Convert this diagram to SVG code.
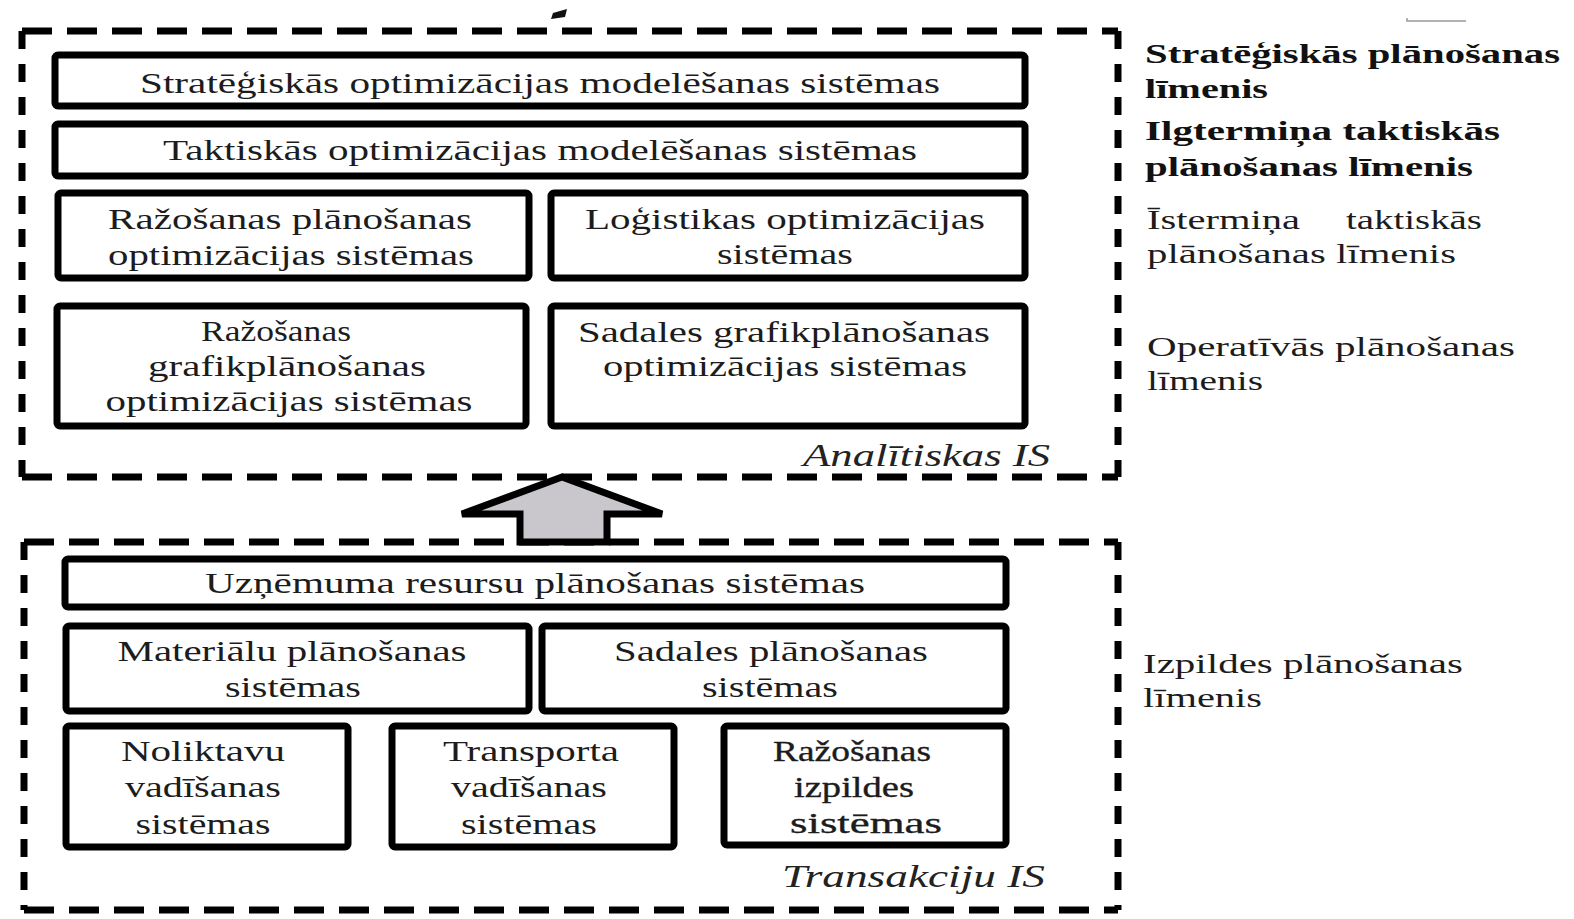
<svg xmlns="http://www.w3.org/2000/svg" width="1574" height="919" viewBox="0 0 1574 919">
  <style>
    .frame-h { stroke: #000; stroke-width: 7; stroke-dasharray: 30 15; fill: none; }
    .frame-v { stroke: #000; stroke-width: 7; stroke-dasharray: 18 15; fill: none; }
    .box { fill: #fff; stroke: #000; stroke-width: 7; }
    .t { font-family: "Liberation Serif", "Times New Roman", serif; font-size: 30px; fill: #1c1c1c; text-anchor: middle; }
    .tb { stroke: #1c1c1c; stroke-width: 0.35; }
    .it { font-family: "Liberation Serif", "Times New Roman", serif; font-style: italic; font-size: 31px; fill: #222; }
    .lvl { font-family: "Liberation Serif", "Times New Roman", serif; font-size: 28px; fill: #1c1c1c; }
    .lvlb { font-family: "Liberation Serif", "Times New Roman", serif; font-size: 28px; font-weight: bold; fill: #111; }
  </style>
  <rect width="1574" height="919" fill="#fff"/>

  <!-- stray marks at the top edge -->
  <path d="M553 13 L567 9 L565 17 L551 19 Z" fill="#111"/>
  <path d="M1407 18 L1407 21 L1466 21" fill="none" stroke="#999" stroke-width="1.5"/>

  <!-- analytical IS frame -->
  <g id="frame-analytical">
    <path class="frame-h" d="M22 31 H1118"/>
    <path class="frame-h" d="M22 477 H1118"/>
    <path class="frame-v" d="M22 31 V477"/>
    <path class="frame-v" d="M1118 31 V477"/>
    <text class="it" x="803" y="466" textLength="247" lengthAdjust="spacingAndGlyphs">Analītiskas IS</text>
  </g>

  <!-- transaction IS frame -->
  <g id="frame-transaction">
    <path class="frame-h" d="M24 542 H1118"/>
    <path class="frame-h" d="M24 910 H1118"/>
    <path class="frame-v" d="M24 542 V910"/>
    <path class="frame-v" d="M1118 542 V910"/>
    <text class="it" x="782" y="887" textLength="263" lengthAdjust="spacingAndGlyphs">Transakciju IS</text>
  </g>

  <!-- analytical systems -->
  <g id="strategic-opt">
    <rect class="box" x="55" y="55" width="970" height="51" rx="3"/>
    <text class="t" x="540" y="93" textLength="800" lengthAdjust="spacingAndGlyphs">Stratēģiskās optimizācijas modelēšanas sistēmas</text>
  </g>
  <g id="tactical-opt">
    <rect class="box" x="55" y="124" width="970" height="52" rx="3"/>
    <text class="t" x="540" y="160" textLength="754" lengthAdjust="spacingAndGlyphs">Taktiskās optimizācijas modelēšanas sistēmas</text>
  </g>
  <g id="production-planning-opt">
    <rect class="box" x="58" y="193" width="471" height="85" rx="3"/>
    <text class="t" x="290" y="229" textLength="364" lengthAdjust="spacingAndGlyphs">Ražošanas plānošanas</text>
    <text class="t" x="291" y="265" textLength="366" lengthAdjust="spacingAndGlyphs">optimizācijas sistēmas</text>
  </g>
  <g id="logistics-opt">
    <rect class="box" x="551" y="193" width="474" height="85" rx="3"/>
    <text class="t" x="785" y="229" textLength="400" lengthAdjust="spacingAndGlyphs">Loģistikas optimizācijas</text>
    <text class="t" x="785" y="264" textLength="136" lengthAdjust="spacingAndGlyphs">sistēmas</text>
  </g>
  <g id="production-scheduling-opt">
    <rect class="box" x="57" y="306" width="469" height="120" rx="3"/>
    <text class="t" x="276" y="341" textLength="150" lengthAdjust="spacingAndGlyphs">Ražošanas</text>
    <text class="t" x="287" y="376" textLength="278" lengthAdjust="spacingAndGlyphs">grafikplānošanas</text>
    <text class="t" x="289" y="411" textLength="367" lengthAdjust="spacingAndGlyphs">optimizācijas sistēmas</text>
  </g>
  <g id="distribution-scheduling-opt">
    <rect class="box" x="551" y="306" width="474" height="120" rx="3"/>
    <text class="t" x="784" y="342" textLength="412" lengthAdjust="spacingAndGlyphs">Sadales grafikplānošanas</text>
    <text class="t" x="785" y="376" textLength="364" lengthAdjust="spacingAndGlyphs">optimizācijas sistēmas</text>
  </g>

  <!-- data flow from transaction to analytical layer -->
  <g id="connectors">
    <polygon points="562,477 462,514 520,514 520,542 607,542 607,514 662,514" fill="#c9c7cc" stroke="#000" stroke-width="7" stroke-linejoin="miter"/>
  </g>

  <!-- transaction systems -->
  <g id="erp">
    <rect class="box" x="65" y="559" width="941" height="48" rx="3"/>
    <text class="t" x="535" y="593" textLength="660" lengthAdjust="spacingAndGlyphs">Uzņēmuma resursu plānošanas sistēmas</text>
  </g>
  <g id="material-planning">
    <rect class="box" x="66" y="626" width="463" height="85" rx="3"/>
    <text class="t" x="292" y="661" textLength="349" lengthAdjust="spacingAndGlyphs">Materiālu plānošanas</text>
    <text class="t" x="293" y="697" textLength="136" lengthAdjust="spacingAndGlyphs">sistēmas</text>
  </g>
  <g id="distribution-planning">
    <rect class="box" x="542" y="626" width="464" height="85" rx="3"/>
    <text class="t" x="771" y="661" textLength="314" lengthAdjust="spacingAndGlyphs">Sadales plānošanas</text>
    <text class="t" x="770" y="697" textLength="136" lengthAdjust="spacingAndGlyphs">sistēmas</text>
  </g>
  <g id="warehouse-mgmt">
    <rect class="box" x="66" y="726" width="282" height="121" rx="3"/>
    <text class="t" x="203" y="761" textLength="164" lengthAdjust="spacingAndGlyphs">Noliktavu</text>
    <text class="t" x="203" y="797" textLength="156" lengthAdjust="spacingAndGlyphs">vadīšanas</text>
    <text class="t" x="203" y="834" textLength="135" lengthAdjust="spacingAndGlyphs">sistēmas</text>
  </g>
  <g id="transport-mgmt">
    <rect class="box" x="392" y="726" width="282" height="121" rx="3"/>
    <text class="t" x="531" y="761" textLength="176" lengthAdjust="spacingAndGlyphs">Transporta</text>
    <text class="t" x="529" y="797" textLength="156" lengthAdjust="spacingAndGlyphs">vadīšanas</text>
    <text class="t" x="529" y="834" textLength="136" lengthAdjust="spacingAndGlyphs">sistēmas</text>
  </g>
  <g id="manufacturing-execution">
    <rect class="box" x="724" y="726" width="282" height="119" rx="3"/>
    <text class="t tb" x="852" y="761" textLength="158" lengthAdjust="spacingAndGlyphs">Ražošanas</text>
    <text class="t tb" x="854" y="797" textLength="120" lengthAdjust="spacingAndGlyphs">izpildes</text>
    <text class="t tb" x="866" y="833" textLength="152" lengthAdjust="spacingAndGlyphs">sistēmas</text>
  </g>

  <!-- planning level labels -->
  <g id="level-strategic">
    <text class="lvlb" x="1145" y="63" textLength="415" lengthAdjust="spacingAndGlyphs">Stratēģiskās plānošanas</text>
    <text class="lvlb" x="1145" y="98" textLength="123" lengthAdjust="spacingAndGlyphs">līmenis</text>
  </g>
  <g id="level-long-tactical">
    <text class="lvlb" x="1145" y="140" textLength="355" lengthAdjust="spacingAndGlyphs">Ilgtermiņa taktiskās</text>
    <text class="lvlb" x="1145" y="176" textLength="328" lengthAdjust="spacingAndGlyphs">plānošanas līmenis</text>
  </g>
  <g id="level-short-tactical">
    <text class="lvl" x="1147" y="229" textLength="153" lengthAdjust="spacingAndGlyphs">Īstermiņa</text>
    <text class="lvl" x="1346" y="229" textLength="136" lengthAdjust="spacingAndGlyphs">taktiskās</text>
    <text class="lvl" x="1147" y="263" textLength="309" lengthAdjust="spacingAndGlyphs">plānošanas līmenis</text>
  </g>
  <g id="level-operative">
    <text class="lvl" x="1147" y="356" textLength="368" lengthAdjust="spacingAndGlyphs">Operatīvās plānošanas</text>
    <text class="lvl" x="1147" y="390" textLength="116" lengthAdjust="spacingAndGlyphs">līmenis</text>
  </g>
  <g id="level-execution">
    <text class="lvl" x="1143" y="673" textLength="320" lengthAdjust="spacingAndGlyphs">Izpildes plānošanas</text>
    <text class="lvl" x="1143" y="707" textLength="119" lengthAdjust="spacingAndGlyphs">līmenis</text>
  </g>
</svg>
